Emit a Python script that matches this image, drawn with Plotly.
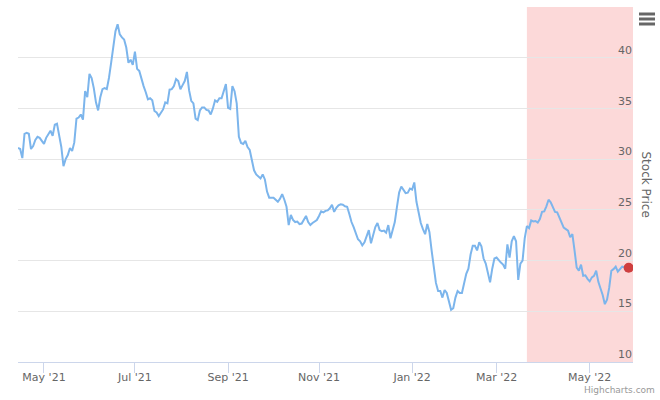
import pandas as pd
import plotly.graph_objects as go

# ---- data -------------------------------------------------------------
START_DATE = "2021-04-15"
END_DATE = "2022-05-31"
HOLIDAYS = ["2021-05-31", "2021-07-05", "2021-09-06", "2021-11-25", "2021-12-24",
            "2022-01-17", "2022-02-21", "2022-04-15", "2022-05-30"]

PRICES = [
    31.1, 31.0, 30.1, 32.5, 32.6, 32.5, 31.0, 31.3, 31.9, 32.2, 32.1, 31.8,
    31.5, 32.1, 32.4, 32.8, 32.3, 33.4, 33.5, 32.2, 31.2, 29.3,
    30.0, 30.4, 31.1, 30.8, 31.65, 34.0, 34.1, 34.4, 33.9, 36.7,
    36.1, 38.4, 38.0, 37.0, 35.6, 34.8, 36.1, 36.9, 37.0, 36.9,
    38.0, 39.5, 41.2, 42.6, 43.3, 42.3, 42.0, 41.8, 41.0, 39.5,
    39.8, 39.3, 40.6, 38.9, 38.7, 37.8, 37.2, 36.6, 35.9, 36.0,
    35.8, 34.75, 34.6, 34.25, 34.65, 34.9, 35.6, 35.5, 36.85, 36.9,
    37.2, 37.9, 37.7, 36.9, 37.3, 37.7, 38.6, 36.8, 35.75, 35.5,
    34.0, 33.85, 34.8, 35.1, 35.1, 34.85, 34.8, 34.4, 35.0, 35.8,
    35.65, 36.0, 36.0, 36.6, 37.4, 35.05, 34.95, 37.2, 36.7, 35.5,
    32.2, 31.6, 31.5, 31.8, 31.2, 30.9, 29.7, 28.9, 28.5, 28.3,
    28.1, 28.5, 28.0, 26.8, 26.2, 26.2, 26.2, 26.0, 25.8, 26.1,
    26.55, 26.0, 25.3, 23.5, 24.5, 24.0, 23.8, 23.85, 23.6, 23.65,
    24.0, 24.4, 23.8, 23.5, 23.7, 23.85, 24.0, 24.4, 24.85, 24.75,
    24.9, 24.95, 25.15, 25.5, 24.8, 25.2, 25.45, 25.55, 25.5, 25.35,
    25.3, 24.6, 23.8, 23.3, 22.6, 22.1, 21.9, 21.5, 21.8, 22.4,
    23.0, 21.7, 22.4, 23.3, 23.7, 23.0, 22.9, 22.95, 22.75, 23.5,
    22.2, 22.9, 23.8, 25.3, 26.7, 27.3, 26.9, 26.65, 26.7, 27.1,
    27.0, 27.7, 25.8, 24.7, 23.7, 23.1, 22.6, 23.6, 22.8, 21.0,
    19.6, 17.8, 17.0, 17.0, 16.35, 17.1, 16.8, 15.9, 15.15, 15.3,
    16.35, 17.0, 16.8, 16.8, 17.9, 18.7, 19.2, 20.6, 21.45, 21.45,
    21.0, 21.8, 21.4, 20.2, 19.7, 18.9, 17.85, 19.2, 20.2, 20.3,
    20.0, 19.8, 19.6, 19.2, 21.6, 20.3, 21.9, 22.4, 21.9, 18.1,
    19.7, 20.0, 22.2, 23.4, 23.2, 23.95, 23.85, 23.9, 23.75, 24.1,
    24.8, 24.85, 25.35, 26.0, 25.75, 25.25, 24.8, 24.75, 24.2, 23.7,
    23.25, 23.1, 22.95, 22.3, 22.6, 21.0, 19.3, 19.0, 19.6, 18.5,
    18.55, 18.2, 17.95, 18.35, 18.5, 19.0, 17.9, 17.25, 16.6, 15.7,
    16.15, 17.3, 19.0, 19.15, 19.4, 18.9, 19.1, 19.4, 19.35, 18.95,
    19.3, 19.35, 19.4,
]

MARKER_DATE = ["2022-05-26"]
MARKER_VALUE = [19.3]

BAND_START = "2022-03-21"
BAND_END = END_DATE

X_TICK_DATES = ["2021-05-03", "2021-07-01", "2021-09-01", "2021-11-01",
                "2022-01-03", "2022-03-01", "2022-05-02"]
X_TICK_LABELS = ["May '21", "Jul '21", "Sep '21", "Nov '21", "Jan '22", "Mar '22", "May '22"]

Y_TICK_VALUES = [10, 15, 20, 25, 30, 35, 40, 45]
Y_TICK_LABELS = ["10", "15", "20", "25", "30", "35", "40", ""]
Y_TITLE = "Stock Price"
CREDITS = "Highcharts.com"

dates = pd.bdate_range(START_DATE, END_DATE, freq="C", holidays=HOLIDAYS)
if len(dates) != len(PRICES):
    raise ValueError(f"dates {len(dates)} != prices {len(PRICES)}")

FONT = "DejaVu Sans"

fig = go.Figure()
fig.add_trace(go.Scatter(
    x=dates, y=PRICES, mode="lines",
    line=dict(color="#7cb5ec", width=2),
    hoverinfo="skip", showlegend=False,
))
fig.add_trace(go.Scatter(
    x=pd.to_datetime(MARKER_DATE), y=MARKER_VALUE, mode="markers",
    marker=dict(color="#cf3f3f", size=10, line=dict(width=0)),
    hoverinfo="skip", showlegend=False,
))

fig.add_shape(type="rect", xref="x", yref="paper",
              x0=BAND_START, x1=BAND_END, y0=0, y1=1,
              fillcolor="#fcd9d9", line=dict(width=0), layer="below")

# exporting menu icon
for py in (14, 19, 24):
    yy = (362 - py) / 355
    fig.add_shape(type="line", xref="paper", yref="paper",
                  x0=(639 - 18) / 615, x1=(655 - 18) / 615, y0=yy, y1=yy,
                  line=dict(color="#666666", width=3))

fig.add_annotation(text=Y_TITLE, xref="paper", yref="paper",
                   x=(646 - 18) / 615, y=0.5, textangle=90, showarrow=False,
                   xanchor="center", yanchor="middle",
                   font=dict(family=FONT, size=12, color="#666666"))
fig.add_annotation(text=CREDITS, xref="paper", yref="paper",
                   x=(657 - 18) / 615, y=(362 - 390) / 355, showarrow=False,
                   xanchor="right", yanchor="middle",
                   font=dict(family=FONT, size=9, color="#999999"))

fig.update_layout(
    width=660, height=400,
    margin=dict(l=18, r=27, t=7, b=38),
    paper_bgcolor="white", plot_bgcolor="white",
    font=dict(family=FONT, size=11, color="#666666"),
    showlegend=False,
    xaxis=dict(
        type="date",
        range=[START_DATE, END_DATE],
        rangebreaks=[dict(bounds=["sat", "mon"]), dict(values=HOLIDAYS)],
        tickvals=X_TICK_DATES, ticktext=X_TICK_LABELS,
        showgrid=False, zeroline=False,
        showline=True, linecolor="#ccd6eb", linewidth=1,
        ticks="outside", ticklen=10, tickcolor="#ccd6eb", tickwidth=1,
        ticklabelstandoff=-5,
        tickfont=dict(family=FONT, size=11, color="#666666"),
        fixedrange=True,
    ),
    yaxis=dict(
        side="right",
        range=[10, 45],
        tickvals=Y_TICK_VALUES, ticktext=Y_TICK_LABELS,
        ticklabelposition="inside top",
        ticklabelstandoff=-2,
        showgrid=True, gridcolor="#e6e6e6", gridwidth=1,
        zeroline=False, showline=False, ticks="",
        tickfont=dict(family=FONT, size=11, color="#666666"),
        fixedrange=True,
    ),
)

fig.write_html("out.html", config={"displayModeBar": False},
               post_script="document.body.style.margin='0';")
